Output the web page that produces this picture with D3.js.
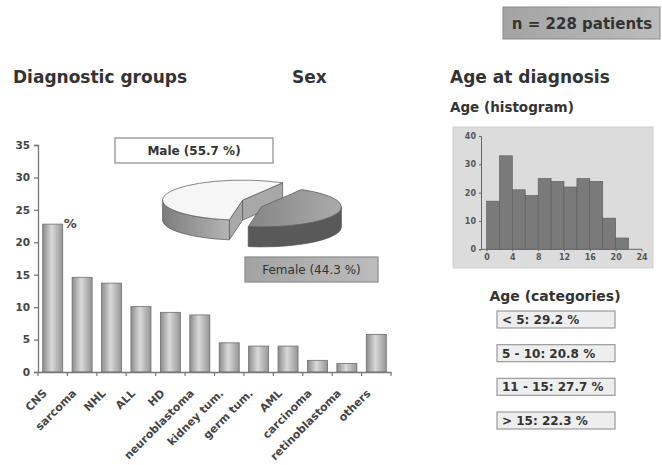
<!DOCTYPE html>
<html>
<head>
<meta charset="utf-8">
<script src="https://cdn.jsdelivr.net/npm/d3@7"></script>
<style>
  body { margin: 0; background: #fff; }
  svg { display: block; font-family: "DejaVu Sans", sans-serif; }
</style>
</head>
<body>
<svg id="chart" width="662" height="465"></svg>
<script>
// data
const groups = ["CNS", "sarcoma", "NHL", "ALL", "HD", "neuroblastoma", "kidney tum.",
                "germ tum.", "AML", "carcinoma", "retinoblastoma", "others"];
const groupPercent = [22.8, 14.6, 13.7, 10.1, 9.2, 8.8, 4.5, 4.0, 4.0, 1.8, 1.3, 5.8];
const groupTicks = [0, 5, 10, 15, 20, 25, 30, 35];

const sexLabels = ["Male", "Female"];
const sexPercent = [55.7, 44.3];

const histStart = [0, 2, 4, 6, 8, 10, 12, 14, 16, 18, 20];
const histCount = [17, 33, 21, 19, 25, 24, 22, 25, 24, 11, 4];
const histYTicks = [0, 10, 20, 30, 40];
const histXTicks = [0, 4, 8, 12, 16, 20, 24];

const ageCats = ["< 5", "5 - 10", "11 - 15", "> 15"];
const agePercent = [29.2, 20.8, 27.7, 22.3];

const patients = 228;

const svg = d3.select("#chart");
const ink = "#333";
const defs = svg.append("defs");

const barGrad = defs.append("linearGradient").attr("id", "barGrad");
barGrad.append("stop").attr("offset", "0%").attr("stop-color", "#8c8c8c");
barGrad.append("stop").attr("offset", "45%").attr("stop-color", "#d9d9d9");
barGrad.append("stop").attr("offset", "100%").attr("stop-color", "#959595");

const wallGrad = defs.append("linearGradient").attr("id", "wallGrad");
wallGrad.append("stop").attr("offset", "0%").attr("stop-color", "#7d7d7d");
wallGrad.append("stop").attr("offset", "100%").attr("stop-color", "#b5b5b5");

const femGrad = defs.append("linearGradient").attr("id", "femGrad");
femGrad.append("stop").attr("offset", "0%").attr("stop-color", "#858585");
femGrad.append("stop").attr("offset", "100%").attr("stop-color", "#ababab");

const boxGrad = defs.append("linearGradient").attr("id", "boxGrad");
boxGrad.append("stop").attr("offset", "0%").attr("stop-color", "#a3a3a3");
boxGrad.append("stop").attr("offset", "100%").attr("stop-color", "#bdbdbd");

// headings
const title = (txt, x, y, size) => svg.append("text")
    .attr("x", x).attr("y", y)
    .attr("font-size", size).attr("font-weight", "bold")
    .attr("fill", ink).text(txt);

title("Diagnostic groups", 13, 83, 17);
title("Sex", 292, 83, 17);
title("Age at diagnosis", 450, 83, 17);
title("Age (histogram)", 450, 112, 13.5);

svg.append("rect")
    .attr("x", 503).attr("y", 7).attr("width", 157).attr("height", 32)
    .attr("fill", "url(#boxGrad)").attr("stroke", "#8a8a8a");
svg.append("text")
    .attr("x", 582).attr("y", 28.5).attr("text-anchor", "middle")
    .attr("font-size", 15).attr("font-weight", "bold").attr("fill", ink)
    .text(`n = ${patients} patients`);

// Part 1: bar chart of diagnostic groups
const x = d3.scaleBand()
    .domain(groups)
    .range([38, 391])
    .paddingInner(0.32)
    .paddingOuter(0.16);

const y = d3.scaleLinear()
    .domain([0, 35])
    .range([372, 145]);

svg.append("g")
    .selectAll("rect")
    .data(groups)
    .enter()
    .append("rect")
    .attr("x", d => x(d))
    .attr("y", (d, i) => y(groupPercent[i]))
    .attr("width", x.bandwidth())
    .attr("height", (d, i) => y(0) - y(groupPercent[i]))
    .attr("fill", "url(#barGrad)")
    .attr("stroke", "#6e6e6e")
    .attr("stroke-width", 0.8);

const yAxis = svg.append("g")
    .attr("transform", "translate(38,0)")
    .call(d3.axisLeft(y).tickValues(groupTicks).tickSize(4).tickPadding(4));
yAxis.selectAll("line, path").attr("stroke", "#777").attr("stroke-width", 1.3);
yAxis.selectAll("text")
    .attr("font-family", "DejaVu Sans, sans-serif")
    .attr("font-size", 10.5).attr("font-weight", "bold").attr("fill", "#444");

const xAxis = svg.append("g")
    .attr("transform", `translate(0,${y(0)})`)
    .call(d3.axisBottom(x).tickSize(0).tickPadding(0));
xAxis.select("path").attr("stroke", "#777").attr("stroke-width", 1.3);
xAxis.selectAll("text")
    .attr("font-family", "DejaVu Sans, sans-serif")
    .attr("font-size", 11).attr("font-weight", "bold").attr("fill", "#444")
    .attr("dy", 0)
    .attr("text-anchor", "end")
    .attr("transform", "translate(-5,22) rotate(-45)");

// tick marks sit between categories
const step = x.step();
svg.append("g")
    .selectAll("line")
    .data(groups.concat(["end"]))
    .enter()
    .append("line")
    .attr("x1", (d, i) => i < groups.length ? x(d) - step * x.paddingInner() / 2 : 391)
    .attr("x2", (d, i) => i < groups.length ? x(d) - step * x.paddingInner() / 2 : 391)
    .attr("y1", y(0))
    .attr("y2", y(0) + 4)
    .attr("stroke", "#777")
    .attr("stroke-width", 1.2);

svg.append("text")
    .attr("x", x(groups[0]) + x.bandwidth() + 1)
    .attr("y", y(groupPercent[0]) + 4)
    .attr("font-size", 13).attr("font-weight", "bold").attr("fill", "#444")
    .text("%");

// Part 2: exploded 3D pie for sex
const cx = 252, cy = 203.5, rx = 80, ry = 20, depth = 20, explode = 10;
const pie = d3.pie().sort(null).startAngle(-170.5 * Math.PI / 180)
    .endAngle((360 - 170.5) * Math.PI / 180);
const slices = pie(sexPercent);

const pt = (a, ox, oy, dz) => [ox + rx * Math.sin(a), oy - ry * Math.cos(a) + dz];

const pieG = svg.append("g");
const topColor = ["#f6f6f6", "url(#femGrad)"];
const wallColor = ["url(#wallGrad)", "#595959"];
const cutColor = ["#a8a8a8", "#6a6a6a"];

slices.forEach((s, i) => {
    const mid = (s.startAngle + s.endAngle) / 2;
    const ox = cx + explode * Math.sin(mid);
    const oy = cy - explode * Math.cos(mid);
    const a0 = s.startAngle, a1 = s.endAngle;

    // cut faces that turn toward the viewer
    [[a0, a0 - Math.PI / 2], [a1, a1 + Math.PI / 2]].forEach(([a, n]) => {
        if (Math.cos(n) >= 0) return;
        const e = pt(a, ox, oy, 0), eb = pt(a, ox, oy, depth);
        pieG.append("path")
            .attr("d", `M${ox},${oy}L${e}L${eb}L${ox},${oy + depth}Z`)
            .attr("fill", cutColor[i]).attr("stroke", "#555").attr("stroke-width", 0.7);
    });

    // outer wall on the front half
    const norm = a => ((a % (2 * Math.PI)) + 2 * Math.PI) % (2 * Math.PI);
    let b0 = norm(a0), b1 = b0 + (a1 - a0);
    const lo = Math.PI / 2, hi = 3 * Math.PI / 2;
    [[b0, b1], [b0 - 2 * Math.PI, b1 - 2 * Math.PI]].forEach(([c0, c1]) => {
        const w0 = Math.max(c0, lo), w1 = Math.min(c1, hi);
        if (w1 <= w0) return;
        const t0 = pt(w0, ox, oy, 0), t1 = pt(w1, ox, oy, 0);
        const d0 = pt(w0, ox, oy, depth), d1 = pt(w1, ox, oy, depth);
        pieG.append("path")
            .attr("d", `M${t0}A${rx},${ry} 0 0 1 ${t1}L${d1}A${rx},${ry} 0 0 0 ${d0}Z`)
            .attr("fill", wallColor[i]).attr("stroke", "#555").attr("stroke-width", 0.7);
    });

    // top face
    const p0 = pt(a0, ox, oy, 0), p1 = pt(a1, ox, oy, 0);
    const large = a1 - a0 > Math.PI ? 1 : 0;
    pieG.append("path")
        .attr("d", `M${ox},${oy}L${p0}A${rx},${ry} 0 ${large} 1 ${p1}Z`)
        .attr("fill", topColor[i]).attr("stroke", "#555").attr("stroke-width", 0.7);
});

// slice labels
const sexBoxes = [
    {x: 115, y: 138, w: 158, h: 25, fill: "#fff", weight: "bold"},
    {x: 245, y: 257, w: 133, h: 25, fill: "url(#boxGrad)", weight: "normal"}
];
sexLabels.forEach((lab, i) => {
    const b = sexBoxes[i];
    svg.append("rect")
        .attr("x", b.x).attr("y", b.y).attr("width", b.w).attr("height", b.h)
        .attr("fill", b.fill).attr("stroke", "#8a8a8a").attr("stroke-width", 1.2);
    svg.append("text")
        .attr("x", b.x + b.w / 2).attr("y", b.y + 17)
        .attr("text-anchor", "middle")
        .attr("font-size", 12).attr("font-weight", b.weight).attr("fill", ink)
        .text(`${lab} (${sexPercent[i]} %)`);
});

// Part 3: age histogram
svg.append("rect")
    .attr("x", 453).attr("y", 127).attr("width", 200).attr("height", 141)
    .attr("fill", "#dcdcdc").attr("stroke", "#cfcfcf");

const hx = d3.scaleLinear().domain([0, 24]).range([486.5, 641.5]);
const hy = d3.scaleLinear().domain([0, 40]).range([249.3, 136]);

svg.append("g")
    .selectAll("rect")
    .data(histStart)
    .enter()
    .append("rect")
    .attr("x", d => hx(d))
    .attr("y", (d, i) => hy(histCount[i]))
    .attr("width", d => hx(d + 2) - hx(d))
    .attr("height", (d, i) => hy(0) - hy(histCount[i]))
    .attr("fill", "#7a7a7a")
    .attr("stroke", "#5a5a5a")
    .attr("stroke-width", 0.6);

const hyAxis = svg.append("g")
    .attr("transform", "translate(481,0)")
    .call(d3.axisLeft(hy).tickValues(histYTicks).tickSize(2).tickPadding(3));
hyAxis.selectAll("line, path").attr("stroke", "#666");
hyAxis.selectAll("text")
    .attr("font-family", "DejaVu Sans, sans-serif")
    .attr("font-size", 8).attr("font-weight", "bold").attr("fill", "#555");

const hxAxis = svg.append("g")
    .attr("transform", `translate(0,${hy(0)})`)
    .call(d3.axisBottom(hx).tickValues(histXTicks).tickSize(2).tickPadding(3));
hxAxis.select("path").attr("d", "M481,0H642").attr("stroke", "#666");
hxAxis.selectAll("line").attr("stroke", "#666");
hxAxis.selectAll("text")
    .attr("font-family", "DejaVu Sans, sans-serif")
    .attr("font-size", 8).attr("font-weight", "bold").attr("fill", "#555");

// age categories
svg.append("text")
    .attr("x", 555).attr("y", 301).attr("text-anchor", "middle")
    .attr("font-size", 14).attr("font-weight", "bold").attr("fill", ink)
    .text("Age (categories)");

const catY = d3.scalePoint().domain(ageCats).range([311, 412]);

const cats = svg.append("g")
    .selectAll("g")
    .data(ageCats)
    .enter()
    .append("g")
    .attr("transform", d => `translate(497,${catY(d)})`);

cats.append("rect")
    .attr("width", 118).attr("height", 17)
    .attr("fill", "#eeeeee").attr("stroke", "#9a9a9a").attr("stroke-width", 1.2);

cats.append("text")
    .attr("x", 5).attr("y", 13)
    .attr("font-size", 12).attr("font-weight", "bold").attr("fill", ink)
    .text((d, i) => `${d}: ${agePercent[i]} %`);
</script>
</body>
</html>
